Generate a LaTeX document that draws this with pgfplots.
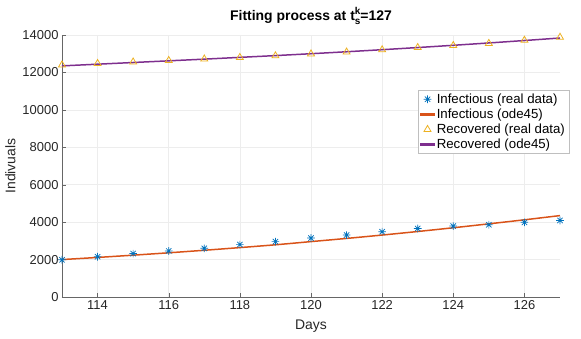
\documentclass[border=0pt]{standalone}
\usepackage{fontspec}
\setmainfont{Liberation Sans}
\usepackage{pgfplots}
\pgfplotsset{compat=1.18}
\pgfplotsset{markonly/.style={legend image code/.code={%
  \draw[#1] plot coordinates {(6.5bp,0bp)};}}}

% MATLAB-like eight-armed asterisk
\pgfdeclareplotmark{mstar}{%
  \pgfpathmoveto{\pgfqpoint{-\pgfplotmarksize}{0pt}}\pgfpathlineto{\pgfqpoint{\pgfplotmarksize}{0pt}}%
  \pgfpathmoveto{\pgfqpoint{0pt}{-\pgfplotmarksize}}\pgfpathlineto{\pgfqpoint{0pt}{\pgfplotmarksize}}%
  \pgfpathmoveto{\pgfqpoint{-0.707\pgfplotmarksize}{-0.707\pgfplotmarksize}}\pgfpathlineto{\pgfqpoint{0.707\pgfplotmarksize}{0.707\pgfplotmarksize}}%
  \pgfpathmoveto{\pgfqpoint{-0.707\pgfplotmarksize}{0.707\pgfplotmarksize}}\pgfpathlineto{\pgfqpoint{0.707\pgfplotmarksize}{-0.707\pgfplotmarksize}}%
  \pgfusepathqstroke}

\definecolor{mblue}{rgb}{0,0.447,0.741}
\definecolor{morange}{rgb}{0.85,0.325,0.098}
\definecolor{myellow}{rgb}{0.929,0.694,0.125}
\definecolor{mpurple}{rgb}{0.494,0.184,0.556}

\begin{document}
\begin{tikzpicture}
\useasboundingbox (-62bp,-42bp) rectangle (519bp,297bp);
\begin{axis}[
    at={(0,0)}, anchor=south west,
    scale only axis,
    width=498bp, height=262bp,
    xmin=113, xmax=127,
    ymin=0, ymax=14000,
    xtick={114,116,...,126},
    ytick={0,2000,...,14000},
    scaled ticks=false,
    /pgf/number format/1000 sep={},
    /pgf/number format/assume math mode=true,
    axis x line*=bottom,
    axis y line*=left,
    axis line style={black!60, line width=0.5pt},
    tick align=inside,
    major tick length=4bp,
    tick style={black!60},
    grid=major,
    grid style={black!7, line width=0.5pt},
    ticklabel style={font=\fontsize{13}{15}\selectfont, text=black!85},
    xlabel={Days},
    ylabel={Indivuals},
    label style={font=\fontsize{14}{16}\selectfont, text=black!85},
    xlabel style={yshift=-3bp},
    ylabel style={yshift=0bp},
    title={\bfseries Fitting process at t\makebox[0pt][l]{\raisebox{0.75ex}{\fontsize{10}{10}\selectfont k}}\raisebox{-0.55ex}{\fontsize{10}{10}\selectfont s}=127},
    title style={font=\fontsize{14}{16}\selectfont, yshift=1bp},
    legend style={
        at={(0.715,0.79)}, anchor=north west,
        draw=black!25, fill=white,
        font=\fontsize{13.3}{15}\selectfont,
        inner xsep=2bp, inner ysep=1.5bp,
        row sep=0bp,
    },
    legend cell align=left,
]
\addplot[only marks, mark=mstar, mark size=3.8bp, color=mblue, line width=0.7pt, markonly] coordinates {
(113,1990) (114,2150) (115,2320) (116,2460) (117,2600) (118,2800) (119,2960)
(120,3150) (121,3310) (122,3490) (123,3660) (124,3790) (125,3860) (126,3990) (127,4090)
};
\addlegendentry{Infectious (real data)}
\addplot[color=morange, line width=1.5pt, smooth, no markers,
  legend image code/.code={\fill[morange] (0bp,-0.9bp) rectangle (13bp,0.9bp);}] coordinates {
(113,2000) (114,2114) (115,2235) (116,2362) (117,2497) (118,2640) (119,2790)
(120,2960) (121,3130) (122,3310) (123,3500) (124,3700) (125,3910) (126,4125) (127,4350)
};
\addlegendentry{Infectious (ode45)}
\addplot[only marks, mark=triangle, mark size=4bp, color=myellow, line width=0.8pt, markonly] coordinates {
(113,12400) (114,12480) (115,12560) (116,12640) (117,12720) (118,12800) (119,12890)
(120,12990) (121,13090) (122,13210) (123,13330) (124,13440) (125,13550) (126,13720) (127,13880)
};
\addlegendentry{Recovered (real data)}
\addplot[color=mpurple, line width=1.5pt, smooth, no markers,
  legend image code/.code={\fill[mpurple] (0bp,-0.9bp) rectangle (13bp,0.9bp);}] coordinates {
(113,12350) (114,12440) (115,12530) (116,12620) (117,12710) (118,12805) (119,12900)
(120,13000) (121,13105) (122,13215) (123,13330) (124,13450) (125,13575) (126,13705) (127,13840)
};
\addlegendentry{Recovered (ode45)}
\end{axis}
\end{tikzpicture}
\end{document}
